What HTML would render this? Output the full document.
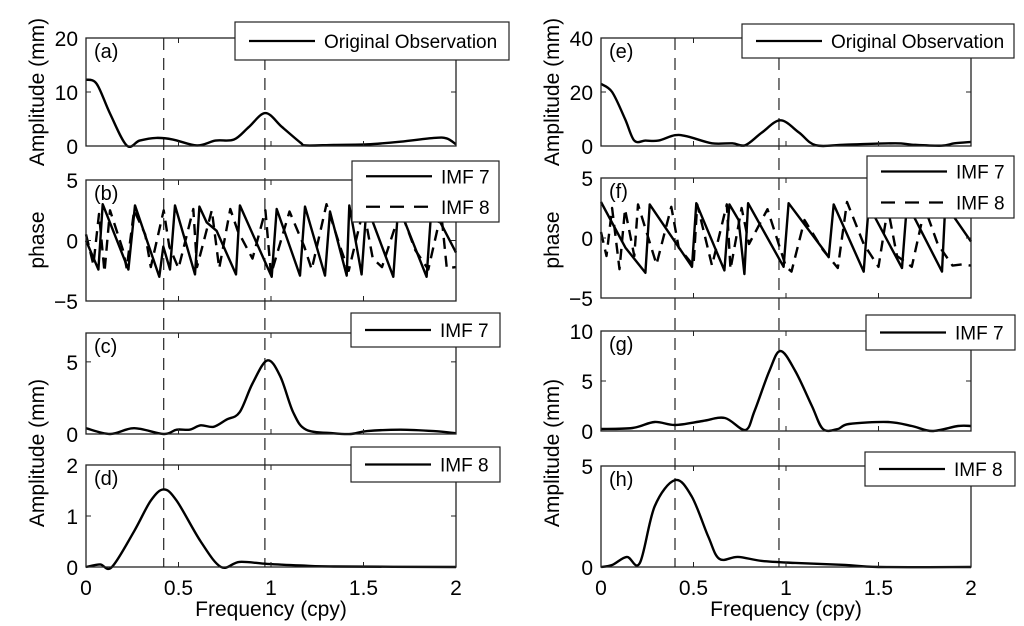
<!DOCTYPE html>
<html><head><meta charset="utf-8">
<style>
html,body{margin:0;padding:0;background:#fff;}
svg{display:block;font-family:"Liberation Sans",Arial,sans-serif;}
</style></head>
<body>
<svg id="fig" width="1024" height="626" viewBox="0 0 1024 626" xmlns="http://www.w3.org/2000/svg"></svg>
<script>
// ---- data ----
const aFreq=[0,.058,.13,.22,.29,.38,.47,.60,.70,.80,.88,.97,1.06,1.16,1.19,1.34,1.52,1.70,1.88,1.95,2.0];
const aAmp=[12.3,11.5,6,0.1,1,1.5,1.2,0.1,1,1.2,3.5,6.1,3.5,0.6,0.1,0.2,0.3,0.8,1.5,1.4,0.3];
const bFreq7=[0,.067,.090,.229,.265,.396,.418,.454,.481,.589,.613,.652,.706,.811,.832,1.004,1.031,1.157,1.184,1.292,1.319,1.409,1.423,1.490,1.517,1.661,1.688,1.841,1.868,2.0];
const bPhase7=[0,-2.4,3,-2.4,2.9,-3,-0.5,-2.4,2.9,-2.8,2.8,1.5,0.8,-2.8,2.9,-3,2.6,-2.9,2.8,-2.9,2.4,-2.9,2.9,-2.8,2.9,-3,2.9,-3,2.9,-1];
const bFreq8=[0,.04,.07,.1,.13,.2,.22,.26,.32,.35,.42,.45,.5,.58,.6,.68,.72,.78,.82,.9,.97,1.0,1.1,1.18,1.22,1.3,1.38,1.42,1.5,1.55,1.6,1.7,1.78,1.85,1.92,1.95,2.0];
const bPhase8=[0.5,-2,2.2,-2.6,2.5,-0.8,-2.3,2.5,0.5,-2.2,2.5,-0.5,-2.3,2.6,-2.2,2.5,-2.3,2.6,0.8,-1.5,2.5,-2.8,2.4,-0.5,-2.4,3,-0.8,-2.5,2.6,-1.5,-2.2,2.5,-0.8,-2.4,2.3,-2.3,-2.2];
const cFreq=[0,.13,.26,.42,.49,.56,.62,.69,.76,.83,.90,.98,1.05,1.12,1.19,1.34,1.43,1.52,1.70,1.88,2.0];
const cAmp=[0.4,0,0.4,0,0.3,0.3,0.6,0.5,1,1.5,3.5,5.1,4,1.5,0.3,0.05,0,0.2,0.3,0.2,0.05];
const dFreq=[0,.076,.14,.26,.35,.42,.49,.62,.73,.83,.98,1.16,1.34,2.0];
const dAmp=[0,0.05,0,0.7,1.3,1.52,1.3,0.5,0,0.1,0.06,0.03,0.01,0];
const eFreq=[0,.06,.13,.18,.24,.31,.40,.47,.60,.71,.78,.87,.97,1.07,1.16,1.32,1.59,1.68,1.84,1.91,2.0];
const eAmp=[23,20,10,2,2,2,4,3.5,1,1,0.3,5,9.5,5,0.3,0.5,1,0.5,0.1,1,1.5];
const fFreq7=[0,.132,.240,.263,.492,.515,.667,.694,.744,.775,.795,.987,1.014,1.204,1.231,1.258,1.420,1.447,1.627,1.654,1.843,1.861,2.0];
const fPhase7=[3,-0.8,-2.9,2.8,-2.4,2.9,-2.7,2.8,1.5,-3,2.9,-2.4,2.9,-1,-1.6,2.8,-2.8,2.7,-2.5,2.9,-2.8,2.8,-0.3];
const fFreq8=[0,.03,.06,.1,.13,.18,.2,.3,.38,.42,.5,.52,.6,.68,.7,.76,.8,.9,1.0,1.03,1.1,1.2,1.28,1.33,1.42,1.5,1.55,1.6,1.68,1.75,1.82,1.9,1.95,2.0];
const fPhase8=[0.5,-1.5,2.5,-2.6,2.4,-1.5,2.8,-2.2,2.6,-0.8,-2.3,2.8,-2.3,2.8,-2.6,2.5,-0.5,2.4,-2.4,-2.8,1.5,-1.0,-2.5,3,-0.5,-2.4,2.5,-1.5,-2.4,2.5,-0.5,-2.3,-2.2,-2.3];
const gFreq=[0,.17,.29,.40,.55,.67,.78,.83,.91,.97,1.05,1.14,1.2,1.28,1.34,1.55,1.68,1.79,1.93,2.0];
const gAmp=[0.2,0.3,0.9,0.6,1,1.3,0.1,2,6,8,6,2.5,0.2,0.2,0.7,0.9,0.5,0,0.5,0.5];
const hFreq=[0,.06,.14,.21,.29,.40,.49,.58,.64,.74,.87,1.05,1.32,1.5,2.0];
const hAmp=[0,0.1,0.5,0.2,3,4.3,3.5,1.5,0.4,0.5,0.3,0.2,0.1,0,0];
const xTicks=[0,0.5,1,1.5,2];
const xTickLabels=["0","0.5","1","1.5","2"];

const NS="http://www.w3.org/2000/svg";
const svg=document.getElementById('fig');
function mk(tag,attrs,parent){const e=document.createElementNS(NS,tag);for(const k in attrs)e.setAttribute(k,attrs[k]);(parent||svg).appendChild(e);return e;}
function txt(s,attrs,parent){const t=mk('text',attrs,parent);t.textContent=s;return t;}

function smoothPath(pts){
  let d=`M${pts[0][0]},${pts[0][1]}`;
  for(let i=0;i<pts.length-1;i++){
    const p0=pts[Math.max(0,i-1)],p1=pts[i],p2=pts[i+1],p3=pts[Math.min(pts.length-1,i+2)];
    const c1=[p1[0]+(p2[0]-p0[0])/6,p1[1]+(p2[1]-p0[1])/6];
    const c2=[p2[0]-(p3[0]-p1[0])/6,p2[1]-(p3[1]-p1[1])/6];
    d+=` C${c1[0]},${c1[1]} ${c2[0]},${c2[1]} ${p2[0]},${p2[1]}`;
  }
  return d;
}

function panel(cfg){
  const {x0,x1,top,bot,ymin,ymax,yticks,yLabels,label,series,legend,showX,name}=cfg;
  const g=mk('g',{});
  
  
  const sx=f=>x0+(f-0)/(2-0)*(x1-x0);
  const sy=v=>bot-(v-ymin)/(ymax-ymin)*(bot-top);
  series.forEach(s=>{
    const pts=s.x.map((f,i)=>[sx(f),sy(s.y[i])]);
    const d=s.smooth?smoothPath(pts):'M'+pts.map(p=>p[0].toFixed(1)+','+p[1].toFixed(1)).join(' L');
    const p=mk('path',{d:d,fill:'none',stroke:'#000','stroke-width':2.4,'stroke-linejoin':'round','stroke-dasharray':s.dash||'none'},g);
    
    
  });
  const fr=mk('rect',{x:x0,y:top,width:x1-x0,height:bot-top,fill:'none',stroke:'#222','stroke-width':1.3},g);
  
  
  xTicks.forEach((t,i)=>{
    const X=sx(t);
    mk('line',{x1:X,x2:X,y1:bot,y2:bot-5,stroke:'#222','stroke-width':1},g);
    mk('line',{x1:X,x2:X,y1:top,y2:top+5,stroke:'#222','stroke-width':1},g);
    if(showX){
      const t2=txt(xTickLabels[i],{x:X,y:bot+28,'font-size':21,'text-anchor':'middle',fill:'#000'},g);
      
      
    }
  });
  yticks.forEach((t,i)=>{
    const Y=sy(t);
    mk('line',{x1:x0,x2:x0+5,y1:Y,y2:Y,stroke:'#222','stroke-width':1},g);
    mk('line',{x1:x1,x2:x1-5,y1:Y,y2:Y,stroke:'#222','stroke-width':1},g);
    const t2=txt(yLabels[i],{x:x0-8,y:Y+8,'font-size':21,'text-anchor':'end',fill:'#000'},g);
    
    
  });
  const pl=txt(label,{x:x0+8,y:top+20,'font-size':20,fill:'#000'},g);
  
  
  const lg=mk('g',{},g);
  
  
  mk('rect',{x:legend.x,y:legend.y,width:legend.w,height:legend.h,fill:'#fff',stroke:'#222','stroke-width':1.2},lg);
  legend.items.forEach((it,i)=>{
    const cy=legend.y+legend.h/(legend.items.length*2)*(2*i+1);
    mk('line',{x1:legend.x+14,x2:legend.x+80,y1:cy,y2:cy,stroke:'#000','stroke-width':2.2,'stroke-dasharray':it.dash||'none'},lg);
    const t=txt(it.text,{x:legend.x+89,y:cy+7,'font-size':19,fill:'#000'},lg);
    
    
  });
  return {sx,sy};
}

function vdash(x,y1,y2){
  const l=mk('line',{x1:x,x2:x,y1:y1,y2:y2,stroke:'#222','stroke-width':1.2,'stroke-dasharray':'12,8'});
  
  
}

const L={x0:86,x1:456}, R={x0:601,x1:971};
const sxL=f=>L.x0+f/2*(L.x1-L.x0), sxR=f=>R.x0+f/2*(R.x1-R.x0);
vdash(sxL(0.42),38,567); vdash(sxL(0.967),38,567);
vdash(sxR(0.40),38,567); vdash(sxR(0.962),38,567);

panel({name:'panel-a',x0:L.x0,x1:L.x1,top:38,bot:146,ymin:0,ymax:20,yticks:[0,10,20],yLabels:['0','10','20'],label:'(a)',showX:false,
  series:[{x:aFreq,y:aAmp,smooth:true,name:'original-observation-line'}],
  legend:{x:235,y:22,w:274,h:38,items:[{text:'Original Observation'}]}});
panel({name:'panel-b',x0:L.x0,x1:L.x1,top:180,bot:301,ymin:-5,ymax:5,yticks:[-5,0,5],yLabels:['−5','0','5'],label:'(b)',showX:false,
  series:[{x:bFreq8,y:bPhase8,dash:'11,7',name:'imf8-phase-line'},{x:bFreq7,y:bPhase7,name:'imf7-phase-line'}],
  legend:{x:352,y:161,w:147,h:61,items:[{text:'IMF 7'},{text:'IMF 8',dash:'14,10'}]}});
panel({name:'panel-c',x0:L.x0,x1:L.x1,top:333,bot:434,ymin:0,ymax:7,yticks:[0,5],yLabels:['0','5'],label:'(c)',showX:false,
  series:[{x:cFreq,y:cAmp,smooth:true,name:'imf7-amplitude-line'}],
  legend:{x:351,y:313,w:149,h:34,items:[{text:'IMF 7'}]}});
panel({name:'panel-d',x0:L.x0,x1:L.x1,top:465,bot:567,ymin:0,ymax:2,yticks:[0,1,2],yLabels:['0','1','2'],label:'(d)',showX:true,
  series:[{x:dFreq,y:dAmp,smooth:true,name:'imf8-amplitude-line'}],
  legend:{x:351,y:447,w:149,h:35,items:[{text:'IMF 8'}]}});

panel({name:'panel-e',x0:R.x0,x1:R.x1,top:38,bot:146,ymin:0,ymax:40,yticks:[0,20,40],yLabels:['0','20','40'],label:'(e)',showX:false,
  series:[{x:eFreq,y:eAmp,smooth:true,name:'original-observation-line'}],
  legend:{x:742,y:24,w:272,h:34,items:[{text:'Original Observation'}]}});
panel({name:'panel-f',x0:R.x0,x1:R.x1,top:178,bot:298,ymin:-5,ymax:5,yticks:[-5,0,5],yLabels:['−5','0','5'],label:'(f)',showX:false,
  series:[{x:fFreq8,y:fPhase8,dash:'11,7',name:'imf8-phase-line'},{x:fFreq7,y:fPhase7,name:'imf7-phase-line'}],
  legend:{x:867,y:156,w:147,h:62,items:[{text:'IMF 7'},{text:'IMF 8',dash:'14,10'}]}});
panel({name:'panel-g',x0:R.x0,x1:R.x1,top:331,bot:431,ymin:0,ymax:10,yticks:[0,5,10],yLabels:['0','5','10'],label:'(g)',showX:false,
  series:[{x:gFreq,y:gAmp,smooth:true,name:'imf7-amplitude-line'}],
  legend:{x:866,y:315,w:149,h:35,items:[{text:'IMF 7'}]}});
panel({name:'panel-h',x0:R.x0,x1:R.x1,top:466,bot:567,ymin:0,ymax:5,yticks:[0,5],yLabels:['0','5'],label:'(h)',showX:true,
  series:[{x:hFreq,y:hAmp,smooth:true,name:'imf8-amplitude-line'}],
  legend:{x:865,y:452,w:150,h:34,items:[{text:'IMF 8'}]}});

function rotLabel(s,x,y,name){
  const t=txt(s,{x:x,y:y,'font-size':21,'text-anchor':'middle',fill:'#000',transform:`rotate(-90 ${x} ${y})`});
  
  
}
rotLabel('Amplitude (mm)',44,92,'y-axis-title-a');
rotLabel('phase',44,240,'y-axis-title-b');
rotLabel('Amplitude (mm)',44,453,'y-axis-title-cd');
rotLabel('Amplitude (mm)',559,92,'y-axis-title-e');
rotLabel('phase',559,240,'y-axis-title-f');
rotLabel('Amplitude (mm)',559,453,'y-axis-title-gh');
let xt=txt('Frequency (cpy)',{x:271,y:616,'font-size':21,'text-anchor':'middle',fill:'#000'});


xt=txt('Frequency (cpy)',{x:786,y:616,'font-size':21,'text-anchor':'middle',fill:'#000'});


</script>
</body></html>
